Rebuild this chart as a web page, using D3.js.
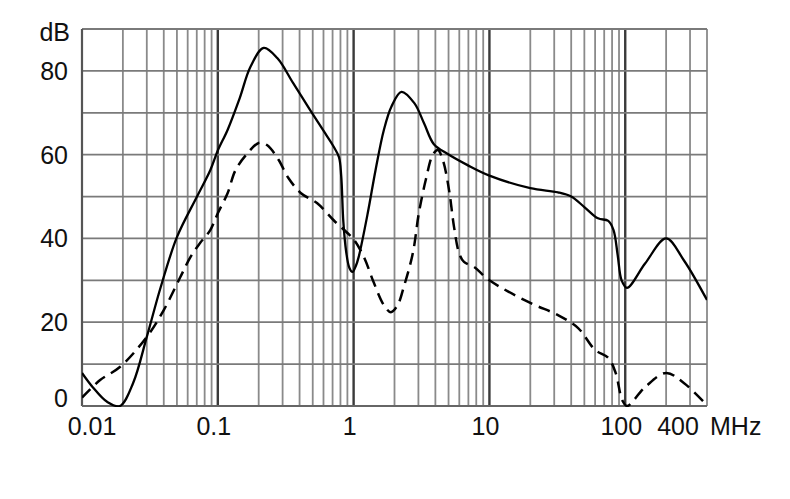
<!DOCTYPE html>
<html>
<head>
<meta charset="utf-8">
<script src="https://cdn.jsdelivr.net/npm/d3@7"></script>
<style>
  body { margin: 0; background: #fff; }
  text { font-family: "Liberation Sans", Arial, sans-serif; font-size: 25px; fill: #111; }
</style>
</head>
<body>
<div id="container"></div>
<script>
// solid trace
const freqSolid = [0.01, 0.012, 0.0153, 0.019, 0.0238, 0.03, 0.038, 0.05, 0.07, 0.088, 0.1, 0.118, 0.145, 0.174, 0.218, 0.275, 0.36, 0.48, 0.62, 0.71, 0.78, 0.81, 0.84, 0.88, 0.93, 0.98, 1.04, 1.09, 1.27, 1.45, 1.67, 1.9, 2.25, 2.8, 3.3, 3.9, 4.9, 6.9, 10, 20, 32, 40, 50, 63, 75, 82, 88, 94, 103, 140, 200, 270, 400];
const dbSolid   = [7.9, 4.5, 1, 0, 5.5, 16.5, 28.4, 40.3, 49.9, 56.3, 61, 65.9, 73.5, 81, 85.5, 83, 77, 70.6, 65, 62, 59.4, 55, 44, 37, 33, 32, 33.5, 35.6, 46, 56.3, 65.9, 71.5, 75, 72.3, 67.5, 62.5, 60.2, 57.5, 55, 52, 51, 50, 47.5, 44.8, 44.2, 42, 36, 30, 28.2, 34, 40, 34.8, 25.3];

// dashed trace
const freqDashed = [0.01, 0.0136, 0.019, 0.03, 0.04, 0.053, 0.063, 0.074, 0.088, 0.1, 0.118, 0.135, 0.166, 0.2, 0.23, 0.28, 0.33, 0.41, 0.54, 0.71, 0.9, 1.0, 1.19, 1.41, 1.67, 1.88, 2.11, 2.34, 2.73, 3.02, 3.4, 3.83, 4.17, 4.54, 5.04, 5.49, 5.98, 6.5, 7.7, 10, 20, 32, 45, 60, 75, 85, 95, 103, 140, 200, 270, 400];
const dbDashed   = [2, 6.2, 9.3, 16.5, 22.9, 30.8, 35.6, 38.9, 42, 46, 50.8, 56.3, 60.4, 62.8, 62.3, 58.8, 54.5, 50.8, 48.4, 44.4, 41.3, 39.8, 35.6, 29.4, 24.1, 22.4, 24.1, 28.4, 36.5, 46, 54, 60, 61.1, 58.7, 51.6, 42.7, 36.5, 34.4, 33.2, 30, 24.6, 21.7, 18.6, 13.4, 11.5, 7.9, 1.4, 0, 4.5, 7.9, 5.5, 0.2];

const yTicks = [0, 20, 40, 60, 80];
const yGrid = [0, 10, 20, 30, 40, 50, 60, 70, 80, 90];
const xTicks = [0.01, 0.1, 1, 10, 100, 400];
const xTickLabels = ['0.01', '0.1', '1', '10', '100', '400'];
const xMajor = [0.1, 1, 10, 100];

const width = 790, height = 499;
const margin = { top: 29, right: 83, bottom: 93, left: 82 };
const w = width - margin.left - margin.right;
const h = height - margin.top - margin.bottom;

const xScale = d3.scaleLog().domain([0.01, 400]).range([0, w]);
const yScale = d3.scaleLinear().domain([0, 90]).range([h, 0]);

// minor grid: 1..9 in every decade
const xGrid = [];
[0.01, 0.1, 1, 10, 100].forEach(dec => {
  for (let k = 1; k <= 9; k++) {
    const v = dec * k;
    if (v <= 400) xGrid.push(v);
  }
});

const svg = d3.select('#container')
  .append('svg')
  .attr('width', width)
  .attr('height', height)
  .append('g')
  .attr('transform', `translate(${margin.left},${margin.top})`);

svg.append('defs').append('clipPath').attr('id', 'clip')
  .append('rect').attr('width', w).attr('height', h + 1);

// grid
svg.append('g').selectAll('line')
  .data(xGrid)
  .join('line')
  .attr('x1', d => xScale(d)).attr('x2', d => xScale(d))
  .attr('y1', 0).attr('y2', h)
  .attr('stroke', d => xMajor.includes(d) ? '#3a3a3a' : '#8a8a8a')
  .attr('stroke-width', d => xMajor.includes(d) ? 2.4 : 1.8);
svg.append('g').selectAll('line')
  .data(yGrid)
  .join('line')
  .attr('x1', 0).attr('x2', w)
  .attr('y1', d => yScale(d)).attr('y2', d => yScale(d))
  .attr('stroke', '#7a7a7a')
  .attr('stroke-width', 1.8);
// left and bottom frame
svg.append('line').attr('x1', 0).attr('x2', 0).attr('y1', 0).attr('y2', h)
  .attr('stroke', '#555').attr('stroke-width', 2.2);
svg.append('line').attr('x1', 0).attr('x2', w).attr('y1', h).attr('y2', h)
  .attr('stroke', '#666').attr('stroke-width', 2.2);

// curves
const line = d3.line()
  .x(d => xScale(d[0]))
  .y(d => yScale(d[1]))
  .curve(d3.curveCatmullRom.alpha(0.5));

svg.append('path')
  .datum(d3.zip(freqSolid, dbSolid))
  .attr('clip-path', 'url(#clip)')
  .attr('fill', 'none')
  .attr('stroke', '#000')
  .attr('stroke-width', 2.3)
  .attr('stroke-linejoin', 'round')
  .attr('d', line);

svg.append('path')
  .datum(d3.zip(freqDashed, dbDashed))
  .attr('clip-path', 'url(#clip)')
  .attr('fill', 'none')
  .attr('stroke', '#000')
  .attr('stroke-width', 2.5)
  .attr('stroke-dasharray', '12,7')
  .attr('d', line);

// y labels
svg.append('g').selectAll('text')
  .data(yTicks)
  .join('text')
  .attr('x', -14)
  .attr('y', d => yScale(d) + (d === 0 ? -8 : 0))
  .attr('dy', '0.36em')
  .attr('text-anchor', 'end')
  .text(d => d);
svg.append('text')
  .attr('x', -12).attr('y', 3)
  .attr('dy', '0.36em')
  .attr('text-anchor', 'end')
  .text('dB');

// x labels
svg.append('g').selectAll('text')
  .data(xTicks)
  .join('text')
  .attr('x', (d, i) => xScale(d) + (i === 0 ? 10 : i === xTicks.length - 1 ? -29 : -4))
  .attr('y', h + 29)
  .attr('text-anchor', 'middle')
  .text((d, i) => xTickLabels[i]);
svg.append('text')
  .attr('x', xScale(400) + 3)
  .attr('y', h + 29)
  .text('MHz');
</script>
</body>
</html>
